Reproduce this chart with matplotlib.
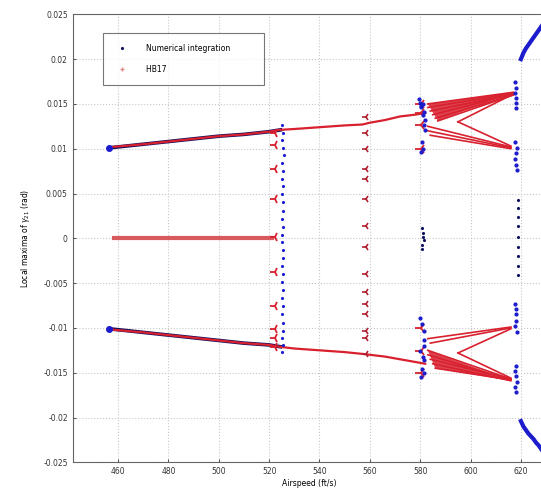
import numpy as np
import matplotlib
matplotlib.use("Agg")
import matplotlib.pyplot as plt

# Numerical integration (blue dots)
num_main_x = [456.5, 460, 470, 480, 490, 500, 510, 520, 524.5]
num_main_up = [0.0101, 0.0102, 0.0105, 0.0108, 0.0111, 0.0114, 0.0116, 0.0119, 0.0121]
num_main_lo = [-0.0101, -0.0102, -0.0105, -0.0108, -0.0111, -0.0114, -0.0117, -0.0119, -0.0121]

num_v525_x = [525.2, 525.6, 525.0, 525.4, 525.8, 525.1, 525.5, 525.3, 525.7, 525.0, 525.4, 525.6,
              525.2, 525.5, 525.1, 525.3, 525.7, 525.4, 525.0, 525.6, 525.2, 525.5, 525.3, 525.6,
              525.1, 525.4, 525.7, 525.2, 525.5, 525.3]
num_v525_y = [0.0126, 0.0118, 0.0110, 0.0101, 0.0093, 0.0084, 0.0075, 0.0066, 0.0058, 0.0049,
              0.0040, 0.0031, 0.0022, 0.0013, 0.0004, -0.0004, -0.0013, -0.0022, -0.0031, -0.0040,
              -0.0049, -0.0058, -0.0067, -0.0076, -0.0085, -0.0094, -0.0103, -0.0111, -0.0119, -0.0127]

num_c581_x = [579.5, 580.0, 580.5, 581.0, 580.2, 581.3, 581.6, 582.0, 581.8, 580.8, 581.2, 580.4,
              579.8, 580.6, 581.4, 580.1, 581.0, 580.7, 581.5, 580.3, 581.6, 581.6, 581.7, 581.6]
num_c581_y = [0.0155, 0.0151, 0.0148, 0.0150, 0.0146, 0.0138, 0.0126, 0.0132, 0.0121, 0.0107,
              0.0100, 0.0096, -0.0089, -0.0096, -0.0103, -0.0126, -0.0132, -0.0146, -0.0150, -0.0155,
              0.0141, -0.0114, -0.0120, -0.0136]

num_z_x = [580.6, 581.0, 581.4, 580.8, 581.2, 580.9, 619.0, 619.0, 619.0, 619.0, 619.0, 619.0,
           619.0, 619.0, 619.0]
num_z_y = [0.0012, 0.0006, -0.0002, -0.0007, 0.0001, -0.0012, 0.0043, 0.0034, 0.0024, 0.0014,
           0.0002, -0.0010, -0.0020, -0.0031, -0.0041]

num_c618_x = [617.8, 618.0, 617.6, 618.2, 617.9, 618.1, 617.7, 618.3, 618.0, 617.8, 618.2, 618.4,
              617.6, 618.0, 617.9, 618.1, 617.7, 618.3, 618.0, 617.8, 618.2, 618.4, 617.6, 618.0]
num_c618_y = [0.0174, 0.0168, 0.0162, 0.0157, 0.0151, 0.0145, 0.0107, 0.0101, 0.0095, 0.0089,
              0.0082, 0.0076, -0.0073, -0.0079, -0.0085, -0.0092, -0.0098, -0.0105, -0.0142,
              -0.0148, -0.0154, -0.0160, -0.0166, -0.0171]

num_hi_x = [620.0, 621.0, 622.0, 623.0, 624.0, 625.0, 626.0, 627.0, 628.0, 629.0]
num_hi_up = [0.0200, 0.0207, 0.0212, 0.0216, 0.0220, 0.0224, 0.0228, 0.0232, 0.0236, 0.0240]
num_hi_lo = [-0.0204, -0.0210, -0.0214, -0.0218, -0.0221, -0.0224, -0.0228, -0.0231, -0.0235, -0.0239]

# HB17 (red)
hb_up_x = [458, 470, 480, 490, 500, 510, 520, 524, 530, 540, 550, 557, 560, 566, 572, 578, 582]
hb_up_y = [0.0102, 0.0105, 0.0108, 0.0111, 0.0114, 0.0116, 0.0119, 0.0121, 0.0122, 0.0124,
           0.0126, 0.0127, 0.0129, 0.0132, 0.0136, 0.0138, 0.0140]
hb_lo_y = [-0.0102, -0.0105, -0.0108, -0.0111, -0.0114, -0.0117, -0.0119, -0.0121, -0.0123,
           -0.0125, -0.0127, -0.0129, -0.0130, -0.0132, -0.0135, -0.0138, -0.0140]

hb_zero_x = [458.5, 465, 475, 485, 495, 505, 515, 521]
hb_zero_y = [0, 0, 0, 0, 0, 0, 0, 0]

arrow523_y = [0.0118, 0.0104, 0.0077, 0.0044, 0.0002, -0.0038, -0.0075, -0.0101, -0.0111, -0.0121]
arrow558_y = [0.0135, 0.0117, 0.0100, 0.0077, 0.0066, 0.0044, 0.0014, -0.0010, -0.0040, -0.0060,
              -0.0073, -0.0085, -0.0103, -0.0111, -0.0129]

# fan branches between 582 and 618 ft/s: start and end points
fan_x0 = [583, 583, 584, 585, 586, 587, 595, 583, 583, 584, 595,
          583, 584, 595, 583, 583, 584, 585, 586, 595]
fan_y0 = [0.0150, 0.0146, 0.0142, 0.0138, 0.0134, 0.0131, 0.0130, 0.0125, 0.0120, 0.0115, 0.0130,
          -0.0112, -0.0117, -0.0128, -0.0125, -0.0130, -0.0135, -0.0140, -0.0145, -0.0128]
fan_x1 = [617, 617, 617, 617, 617, 617, 617, 616, 616, 616, 616,
          616, 616, 616, 616, 616, 616, 616, 616, 616]
fan_y1 = [0.0163, 0.0162, 0.0161, 0.0161, 0.0160, 0.0160, 0.0161, 0.0102, 0.0101, 0.0100, 0.0103,
          -0.0099, -0.0100, -0.0101, -0.0157, -0.0158, -0.0157, -0.0159, -0.0158, -0.0156]

blue = "#1c1ccc"
navy = "#101060"
red = "#d8202e"

fig = plt.figure(figsize=(5.41, 4.97), dpi=100)
ax = fig.add_axes([0.1344, 0.0698, 0.875, 0.9014])

ax.plot(num_main_x, num_main_up, color=navy, lw=2.6, zorder=2)
ax.plot(num_main_x, num_main_lo, color=navy, lw=2.6, zorder=2)
ax.plot(num_main_x[:1], num_main_up[:1], "o", color=blue, ms=4, zorder=4)
ax.plot(num_main_x[:1], num_main_lo[:1], "o", color=blue, ms=4, zorder=4)

ax.plot(hb_up_x, hb_up_y, color=red, lw=1.6, zorder=3)
ax.plot(hb_up_x, hb_lo_y, color=red, lw=1.6, zorder=3)
ax.plot(hb_zero_x, hb_zero_y, color="#d85a5e", lw=3.0, zorder=3)

for x0, y0, x1, y1 in zip(fan_x0, fan_y0, fan_x1, fan_y1):
    ax.plot([x0, x1], [y0, y1], color=red, lw=1.2, zorder=3)

# dense wedges (many overlapping branches)
ax.fill([fan_x0[0], fan_x1[0], fan_x0[5]], [fan_y0[0], fan_y1[0], fan_y0[5]],
        color=red, alpha=0.85, lw=0, zorder=3)
ax.fill([fan_x0[14], fan_x1[17], fan_x0[18]], [fan_y0[14], fan_y1[17], fan_y0[18]],
        color=red, alpha=0.85, lw=0, zorder=3)

ax.plot([522.5] * len(arrow523_y), arrow523_y, "3", color=red, ms=7, mew=1.3, zorder=4)
ax.plot([558.5] * len(arrow558_y), arrow558_y, "3", color="#b02030", ms=6, mew=1.2, zorder=4)
ax.plot([580.5] * 4, [0.0150, 0.0126, 0.0100, -0.0150], "3", color=red, ms=8, mew=1.3, zorder=4)
ax.plot([580.5] * 3, [-0.0126, -0.0100, 0.0140], "3", color=red, ms=8, mew=1.3, zorder=4)

ax.plot(num_v525_x, num_v525_y, ".", color=blue, ms=2.5, zorder=5)
ax.plot(num_c581_x, num_c581_y, ".", color=blue, ms=4, zorder=5)
ax.plot(num_z_x, num_z_y, ".", color=navy, ms=2.5, zorder=5)
ax.plot(num_c618_x, num_c618_y, ".", color=blue, ms=4, zorder=5)
ax.plot(num_hi_x, num_hi_up, color=blue, lw=3, zorder=5)
ax.plot(num_hi_x, num_hi_lo, color=blue, lw=3, zorder=5)

# legend proxies
ax.plot([], [], ".", color=navy, ms=2.5, label="Numerical integration")
ax.plot([], [], "+", color="#e08a8a", ms=3, label="HB17")
leg = ax.legend(loc="upper left", bbox_to_anchor=(0.064, 0.958), borderaxespad=0,
                fontsize=5.5, frameon=True, fancybox=False, edgecolor="#555555",
                borderpad=1.4, handlelength=2.2, handletextpad=2.0, labelspacing=1.6)
leg.get_frame().set_linewidth(0.8)
# pad legend width
for t in leg.get_texts():
    t.set_text(t.get_text() + "          ")

ax.set_xlim(442, 630)
ax.set_ylim(-0.025, 0.025)
ax.set_xticks([460, 480, 500, 520, 540, 560, 580, 600, 620])
ax.set_yticks([-0.025, -0.02, -0.015, -0.01, -0.005, 0, 0.005, 0.01, 0.015, 0.02, 0.025])
ax.set_yticklabels(["-0.025", "-0.02", "-0.015", "-0.01", "-0.005", "0",
                    "0.005", "0.01", "0.015", "0.02", "0.025"])
ax.tick_params(labelsize=5.5, length=2, width=0.6, direction="in", colors="#333333")
ax.grid(True, color="#c8c8c8", linestyle=":", linewidth=0.8)
for s in ax.spines.values():
    s.set_color("#666666")
    s.set_linewidth(0.8)

ax.set_xlabel("Airspeed (ft/s)", fontsize=5.5, labelpad=2)
ax.set_ylabel(r"Local maxima of $\gamma_{21}$ (rad)", fontsize=5.5, labelpad=8)

fig.savefig("out.png", dpi=100)
